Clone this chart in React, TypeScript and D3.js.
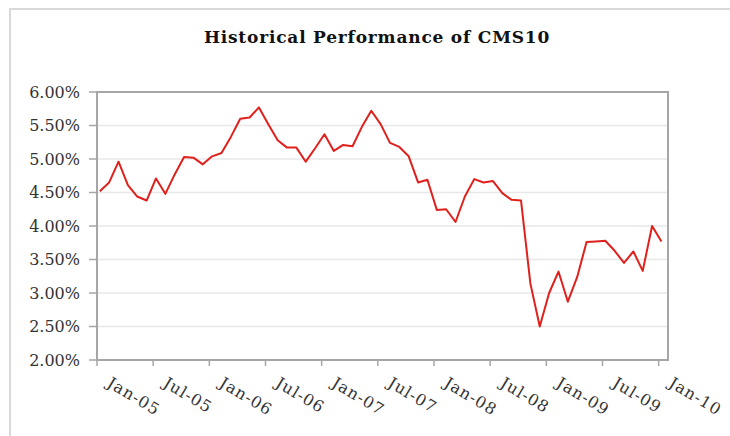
import React from "react";
import * as d3 from "d3";

// monthly CMS10 fixings, Jan-05 .. Jan-10 (percent)
const rates = [
  4.52, 4.65, 4.96, 4.61, 4.44, 4.38, 4.71, 4.48, 4.77, 5.03, 5.02, 4.92,
  5.04, 5.09, 5.33, 5.6, 5.62, 5.77, 5.52, 5.28, 5.17, 5.17, 4.96, 5.16,
  5.37, 5.12, 5.21, 5.19, 5.48, 5.72, 5.52, 5.24, 5.18, 5.04, 4.65, 4.69,
  4.24, 4.25, 4.06, 4.44, 4.7, 4.65, 4.67, 4.49, 4.39, 4.38, 3.14, 2.5,
  3.0, 3.32, 2.87, 3.24, 3.76, 3.77, 3.78, 3.63, 3.45, 3.62, 3.33, 4.0,
  3.77,
];
const xTickLabels = [
  "Jan-05", "Jul-05", "Jan-06", "Jul-06", "Jan-07", "Jul-07",
  "Jan-08", "Jul-08", "Jan-09", "Jul-09", "Jan-10",
];
const yTicks = [2, 2.5, 3, 3.5, 4, 4.5, 5, 5.5, 6];

const W = 730;
const H = 436;
const plot = { left: 97, right: 668, top: 92, bottom: 360 };
const labelFont = "'DejaVu Serif', serif";

export default function App() {
  // month index axis, Jan-05 = 0, axis runs to Feb-10
  const x = d3.scaleLinear().domain([0, 61]).range([plot.left, plot.right]);
  const y = d3.scaleLinear().domain([2, 6]).range([plot.bottom, plot.top]);

  const line = d3
    .line<number>()
    .x((_, i) => x(i + 0.3))
    .y((d) => y(d));

  return (
    <svg
      width={W}
      height={H}
      style={{ position: "absolute", left: 0, top: 0, background: "#fff" }}
    >
      <rect x={10} y={9} width={740} height={450} fill="#fff" stroke="#d9d9d9" strokeWidth={2} />

      <text
        x={377}
        y={43}
        textAnchor="middle"
        fontFamily={labelFont}
        fontWeight="bold"
        fontSize={17}
        letterSpacing={0.8}
        fill="#111"
      >
        Historical Performance of CMS10
      </text>

      {/* gridlines */}
      {yTicks.map((t) => (
        <line
          key={"g" + t}
          x1={plot.left}
          x2={plot.right}
          y1={y(t)}
          y2={y(t)}
          stroke="#e8e8e8"
          strokeWidth={1.5}
        />
      ))}

      {/* plot frame */}
      <rect
        x={plot.left}
        y={plot.top}
        width={plot.right - plot.left}
        height={plot.bottom - plot.top}
        fill="none"
        stroke="#a6a6a6"
        strokeWidth={2}
      />

      {/* y axis ticks + labels */}
      {yTicks.map((t) => (
        <g key={"y" + t}>
          <line x1={plot.left - 8} x2={plot.left} y1={y(t)} y2={y(t)} stroke="#a6a6a6" strokeWidth={1.5} />
          <text
            x={80}
            y={y(t)}
            dy="0.35em"
            textAnchor="end"
            fontFamily={labelFont}
            fontSize={16}
            fill="#333"
          >
            {d3.format(".2f")(t) + "%"}
          </text>
        </g>
      ))}

      {/* x axis ticks + labels */}
      {xTickLabels.map((lab, i) => {
        const xp = x(i * 6);
        return (
          <g key={lab}>
            <line x1={xp} x2={xp} y1={plot.bottom} y2={plot.bottom + 6} stroke="#a6a6a6" strokeWidth={1.5} />
            <text
              transform={`translate(${xp + 9},${plot.bottom + 26}) rotate(31)`}
              fontFamily={labelFont}
              fontSize={16}
              letterSpacing={1}
              fill="#333"
            >
              {lab}
            </text>
          </g>
        );
      })}

      <path d={line(rates) || ""} fill="none" stroke="#e0201c" strokeWidth={2} strokeLinejoin="round" />
    </svg>
  );
}
